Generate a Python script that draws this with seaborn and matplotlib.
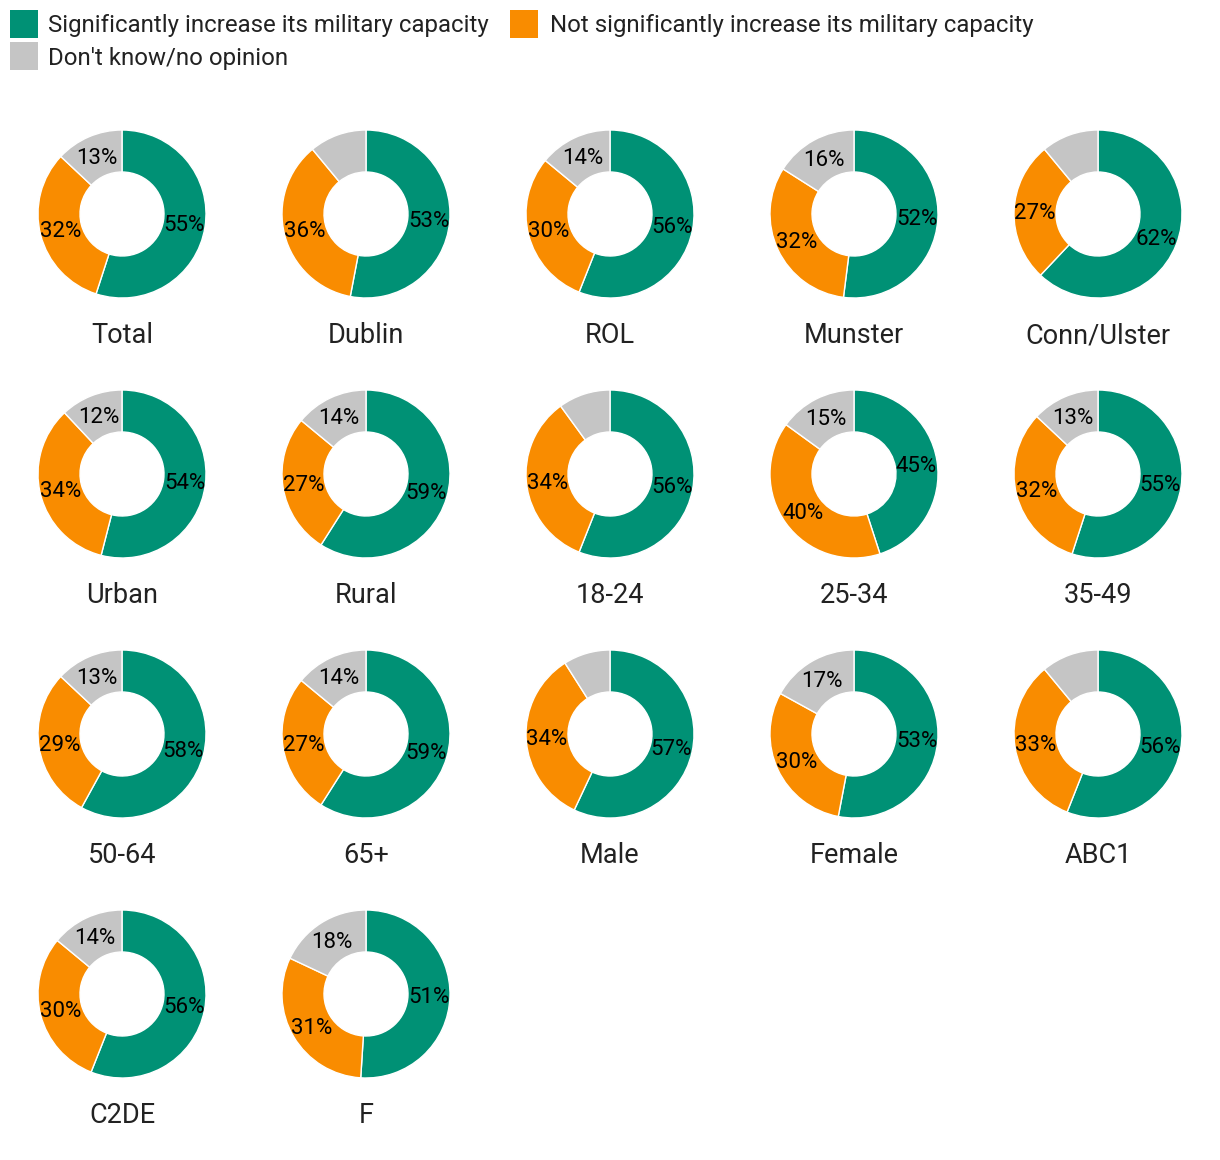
import math
import matplotlib
matplotlib.use("Agg")
import matplotlib.pyplot as plt
from matplotlib.patches import Rectangle
import seaborn as sns

categories = ["Total", "Dublin", "ROL", "Munster", "Conn/Ulster",
              "Urban", "Rural", "18-24", "25-34", "35-49",
              "50-64", "65+", "Male", "Female", "ABC1",
              "C2DE", "F"]
increase = [55, 53, 56, 52, 62, 54, 59, 56, 45, 55, 58, 59, 57, 53, 56, 56, 51]
not_increase = [32, 36, 30, 32, 27, 34, 27, 34, 40, 32, 29, 27, 34, 30, 33, 30, 31]
dont_know = [13, 11, 14, 16, 11, 12, 14, 10, 15, 13, 13, 14, 9, 17, 11, 14, 18]
series_names = ["Significantly increase its military capacity",
                "Not significantly increase its military capacity",
                "Don't know/no opinion"]
colors = ["#009175", "#F98C00", "#C5C5C5"]

sns.set_theme(style="white")
plt.rcParams['font.family'] = ['Roboto', 'DejaVu Sans']

W, H = 1220, 1160
fig = plt.figure(figsize=(W / 100, H / 100), dpi=100)

R = 84  # outer radius in px
ncols = 5
for i, cat in enumerate(categories):
    r, c = divmod(i, ncols)
    cx = 122 + 244 * c
    cy = 214 + 260 * r
    ax = fig.add_axes([(cx - R) / W, 1 - (cy + R) / H, 2 * R / W, 2 * R / H])
    vals = [increase[i], not_increase[i], dont_know[i]]
    ax.pie(vals, colors=colors, startangle=90, counterclock=False,
           radius=1.0, wedgeprops=dict(width=0.5, edgecolor="white", linewidth=1))
    total = sum(vals)
    start = 90.0
    for v in vals:
        ang = start - 360.0 * v / total / 2
        start -= 360.0 * v / total
        if v >= 12:
            ax.text(0.75 * math.cos(math.radians(ang)),
                    0.75 * math.sin(math.radians(ang)) - 0.089,
                    f"{v}%", ha="center", va="baseline", fontsize=16, color="black")
    ax.text(0, -1.536, cat, ha="center", va="baseline", fontsize=19.5, color="#222222")
    ax.set_xlim(-1, 1)
    ax.set_ylim(-1, 1)
    ax.set_aspect("equal")
    ax.axis("off")

# legend (drawn manually to match layout)
legend_items = [(series_names[0], colors[0], 10, 10, 48, 32),
                (series_names[1], colors[1], 510, 10, 550, 32),
                (series_names[2], colors[2], 10, 42, 48, 64.5)]
for name, col, sx, sy, tx, ty in legend_items:
    fig.patches.append(Rectangle((sx / W, 1 - (sy + 28) / H), 28 / W, 28 / H,
                                 transform=fig.transFigure, figure=fig,
                                 facecolor=col, edgecolor="none"))
    fig.text(tx / W, 1 - ty / H, name, ha="left", va="baseline",
             fontsize=17.3, color="#222222")

fig.savefig("out.png", dpi=100, facecolor="white")
